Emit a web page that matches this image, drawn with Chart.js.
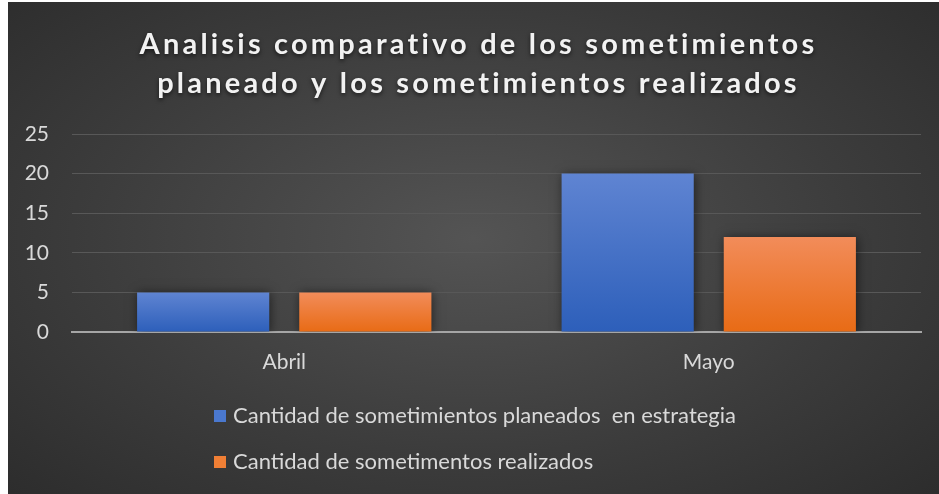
<!DOCTYPE html>
<html>
<head>
<meta charset="utf-8">
<script src="https://cdn.jsdelivr.net/npm/chart.js@4.4.1/dist/chart.umd.min.js"></script>
<style>
  body { margin: 0; background: #fff; }
  #wrap {
    position: absolute; left: 8px; top: 2px; width: 931px; height: 492px;
    background: radial-gradient(ellipse 75% 80% at 50% 48%, #545454 0%, #3c3c3c 55%, #2a2a2a 100%);
  }
</style>
</head>
<body>
<div id="wrap"><canvas id="chart" width="931" height="492"></canvas></div>
<script>
const categories = ['Abril', 'Mayo'];
const planeados = [5, 20];
const realizados = [5, 12];
const seriesNames = ['Cantidad de sometimientos planeados  en estrategia', 'Cantidad de sometimentos realizados'];
const titleLines = ['Analisis comparativo de los sometimientos', 'planeado y los sometimientos realizados'];
const yMax = 25;
const yStep = 5;

const FONT = 'Lato, "Open Sans", sans-serif';

// vertical gradient per bar, from its top down to zero
function barFill(top, bottom) {
    return (ctx) => {
        const chart = ctx.chart;
        if (!chart.chartArea || ctx.raw === undefined) return bottom;
        const y = chart.scales.y;
        const g = chart.ctx.createLinearGradient(0, y.getPixelForValue(ctx.raw), 0, y.getPixelForValue(0));
        g.addColorStop(0, top);
        g.addColorStop(1, bottom);
        return g;
    };
}

const barShadow = {
    id: 'barShadow',
    beforeDatasetsDraw(chart) {
        const c = chart.ctx;
        c.save();
        c.shadowColor = 'rgba(0,0,0,0.55)';
        c.shadowBlur = 10;
        c.shadowOffsetX = 1;
        c.shadowOffsetY = 1;
    },
    afterDatasetsDraw(chart) {
        chart.ctx.restore();
    }
};

const titleAndLegend = {
    id: 'titleAndLegend',
    afterDraw(chart) {
        const c = chart.ctx;
        c.save();
        // title
        c.font = 'bold 29px ' + FONT;
        c.letterSpacing = '3.2px';
        c.textAlign = 'center';
        c.textBaseline = 'alphabetic';
        c.fillStyle = '#f2f2f2';
        c.shadowColor = 'rgba(0,0,0,0.6)';
        c.shadowBlur = 4;
        c.shadowOffsetY = 2;
        c.fillText(titleLines[0], chart.width / 2 + 5, 52);
        c.fillText(titleLines[1], chart.width / 2 + 5, 91);
        c.restore();

        // legend, one entry per line
        c.save();
        c.font = '22px ' + FONT;
        c.textAlign = 'left';
        c.textBaseline = 'middle';
        const colors = ['#4a78cf', '#f07f35'];
        chart.data.datasets.forEach((ds, i) => {
            const yc = 414 + i * 46;
            c.fillStyle = colors[i];
            c.fillRect(206, yc - 6, 12, 12);
            c.fillStyle = '#d9d9d9';
            c.fillText(ds.label, 225, yc);
        });
        c.restore();
    }
};

new Chart(document.querySelector('#chart').getContext('2d'), {
    type: 'bar',
    data: {
        labels: categories,
        datasets: [
            {
                label: seriesNames[0],
                data: planeados,
                backgroundColor: barFill('#5f84d2', '#2d5fba'),
                categoryPercentage: 0.764,
                barPercentage: 0.815
            },
            {
                label: seriesNames[1],
                data: realizados,
                backgroundColor: barFill('#f28c5a', '#e86b15'),
                categoryPercentage: 0.764,
                barPercentage: 0.815
            }
        ]
    },
    options: {
        responsive: false,
        animation: false,
        layout: { padding: { top: 132, left: 0, right: 18, bottom: 102 } },
        plugins: {
            legend: { display: false },
            title: { display: false },
            tooltip: { enabled: false }
        },
        scales: {
            x: {
                grid: { display: false, drawTicks: false },
                border: { color: '#a6a6a6', width: 2 },
                ticks: { color: '#d9d9d9', font: { family: FONT, size: 21 }, padding: 18 },
                afterFit: (scale) => { scale.height = 60; }
            },
            y: {
                min: 0,
                max: yMax,
                grid: { color: '#585858', lineWidth: 1, drawTicks: false },
                border: { display: false },
                ticks: { stepSize: yStep, color: '#d9d9d9', font: { family: FONT, size: 21 }, padding: 23 },
                afterFit: (scale) => { scale.width = 64; }
            }
        }
    },
    plugins: [barShadow, titleAndLegend]
});
</script>
</body>
</html>
